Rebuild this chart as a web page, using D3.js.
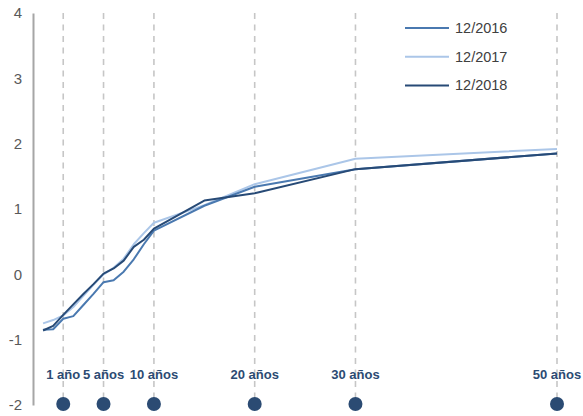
<!DOCTYPE html>
<html>
<head>
<meta charset="utf-8">
<script src="https://cdn.jsdelivr.net/npm/d3@7"></script>
<style>
  body { margin: 0; background: #fff; }
  svg { font-family: "Liberation Sans", Arial, sans-serif; }
</style>
</head>
<body>
<svg width="583" height="416"></svg>
<script>
// maturities (years)
const years = [-1, 0, 1, 2, 3, 4, 5, 6, 7, 8, 9, 10, 15, 20, 30, 50];

const s2016 = [-0.85, -0.84, -0.68, -0.64, -0.47, -0.30, -0.12, -0.09, 0.04, 0.23, 0.46, 0.67, 1.05, 1.34, 1.61, 1.85];
const s2017 = [-0.75, -0.70, -0.63, -0.50, -0.33, -0.16, 0.00, 0.10, 0.24, 0.46, 0.63, 0.79, 1.06, 1.38, 1.77, 1.92];
const s2018 = [-0.86, -0.79, -0.62, -0.46, -0.30, -0.15, 0.01, 0.09, 0.21, 0.42, 0.53, 0.70, 1.13, 1.24, 1.61, 1.85];

const seriesNames = ["12/2016", "12/2017", "12/2018"];
const seriesColors = ["#4a79b0", "#abc6e8", "#274a76"];

const markYears = [1, 5, 10, 20, 30, 50];
const markLabels = ["1 año", "5 años", "10 años", "20 años", "30 años", "50 años"];

const yTicks = [-2, -1, 0, 1, 2, 3, 4];

const svg = d3.select("svg");

const x = d3.scaleLinear().domain([-2, 50]).range([33, 557]);
const y = d3.scaleLinear().domain([-2, 4]).range([405, 13]);

// dashed verticals
svg.append("g")
	.selectAll("line")
	.data(markYears)
	.enter().append("line")
	.attr("x1", d => x(d)).attr("x2", d => x(d))
	.attr("y1", y(4)).attr("y2", y(-2) - 4)
	.attr("stroke", "#c6c6c6")
	.attr("stroke-width", 1.6)
	.attr("stroke-dasharray", "6,5.5");

// y axis
const yAxis = d3.axisLeft(y).tickValues(yTicks).tickSize(0).tickPadding(11).tickFormat(d => String(d));
const ya = svg.append("g")
	.attr("transform", "translate(" + x(-2) + ",0)")
	.call(yAxis);
ya.select(".domain").attr("stroke", "#a6a6a6").attr("stroke-width", 2);
ya.selectAll("text")
	.attr("fill", "#595959")
	.style("font-size", "15px")
	.style("font-family", "Liberation Sans, Arial, sans-serif");

// lines
const line = d3.line()
	.x((d, i) => x(years[i]))
	.y(d => y(d));

const allSeries = [s2016, s2017, s2018];
// draw light first, then medium, then dark
[1, 0, 2].forEach(function(k) {
	svg.append("path")
		.datum(allSeries[k])
		.attr("fill", "none")
		.attr("stroke", seriesColors[k])
		.attr("stroke-width", 2)
		.attr("stroke-linejoin", "round")
		.attr("d", line);
});

// maturity labels
svg.append("g")
	.selectAll("text")
	.data(markYears)
	.enter().append("text")
	.attr("x", d => x(d))
	.attr("y", 379)
	.attr("text-anchor", "middle")
	.attr("fill", "#2c4b73")
	.style("font-size", "13px")
	.style("font-weight", "bold")
	.text((d, i) => markLabels[i]);

// dots
svg.append("g")
	.selectAll("circle")
	.data(markYears)
	.enter().append("circle")
	.attr("cx", d => x(d))
	.attr("cy", y(-2) - 1)
	.attr("r", 7)
	.attr("fill", "#2b4b73");

// legend
const legend = svg.append("g").attr("class", "legend");
seriesNames.forEach(function(name, i) {
	const ly = 28 + i * 28.7;
	legend.append("line")
		.attr("x1", 405).attr("x2", 449)
		.attr("y1", ly).attr("y2", ly)
		.attr("stroke", seriesColors[i])
		.attr("stroke-width", 2);
	legend.append("text")
		.attr("x", 455)
		.attr("y", ly + 5)
		.attr("fill", "#404040")
		.style("font-size", "14.5px")
		.text(name);
});
</script>
</body>
</html>
